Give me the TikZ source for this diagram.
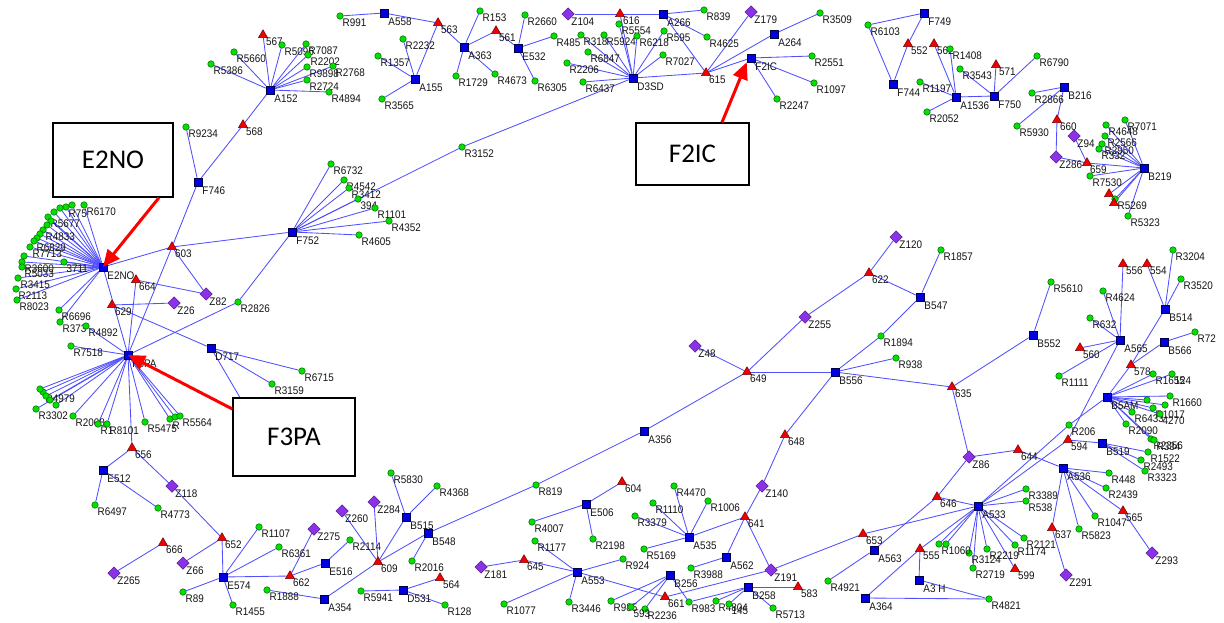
\documentclass[tikz,border=0pt]{standalone}
\usepackage{fontspec}
\setmainfont{Liberation Sans}
\newfontfamily\calib{Carlito}
\newfontfamily\lblfont[FakeStretch=0.9]{Liberation Sans}
\usetikzlibrary{shapes.geometric,arrows.meta,backgrounds}
\definecolor{edg}{RGB}{80,80,255}
\definecolor{gfill}{RGB}{0,225,0}
\definecolor{gdraw}{RGB}{0,100,0}
\definecolor{bfill}{RGB}{0,0,225}
\definecolor{bdraw}{RGB}{0,0,70}
\definecolor{rfill}{RGB}{240,0,0}
\definecolor{rdraw}{RGB}{110,0,0}
\definecolor{pfill}{RGB}{140,50,230}
\definecolor{pdraw}{RGB}{70,20,130}
\definecolor{txt}{RGB}{20,20,20}
\tikzset{
 rn/.style={circle,fill=gfill,draw=gdraw,line width=0.5pt,minimum size=6.5pt,inner sep=0pt},
 sq/.style={rectangle,fill=bfill,draw=bdraw,line width=0.5pt,minimum size=8pt,inner sep=0pt},
 tr/.style={regular polygon,regular polygon sides=3,fill=rfill,draw=rdraw,line width=0.5pt,minimum size=10.5pt,inner sep=0pt},
 dm/.style={diamond,fill=pfill,draw=pdraw,line width=0.5pt,minimum size=12.5pt,inner sep=0pt},
 lbl/.style={font=\lblfont\fontsize{11}{11}\selectfont,text=txt,inner sep=0pt},
 ed/.style={draw=edg,line width=0.85pt},
 callout/.style={draw=black,line width=1.3pt,fill=white,font=\calib\fontsize{27}{27}\selectfont,inner sep=0pt},
 arr/.style={draw=red,line width=3pt,-{Triangle[length=17pt,width=15pt]}}
}
\newcommand\RN[3]{\node[rn,label={[lbl]-45:#3}] (#1) at (#2) {};}
\newcommand\SQ[3]{\node[sq,label={[lbl]-45:#3}] (#1) at (#2) {};}
\newcommand\TR[3]{\node[tr,label={[lbl]-45:#3}] (#1) at (#2) {};}
\newcommand\DM[3]{\node[dm,label={[lbl]-45:#3}] (#1) at (#2) {};}
\begin{document}
\begin{tikzpicture}[x=1pt,y=-1pt]
\begin{scope}[on background layer]
\fill[white] (0,0) rectangle (1224,623);
\end{scope}
\path[use as bounding box] (0,0) rectangle (1224,623);
% ---- top-left A152
\TR{t567}{263,35}{567}
\RN{r5096}{282,45}{R5096}
\RN{r5660}{234,52}{R5660}
\RN{r5386}{211,64}{R5386}
\SQ{a152}{270,90}{A152}
\RN{r7087}{306,44}{R7087}
\RN{r2202}{308,55}{R2202}
\RN{r2768}{333,66}{R2768}
\RN{r9898}{307,67}{R9898}
\RN{r2724}{307,80}{R2724}
\RN{r4894}{329,92}{R4894}
\TR{t568}{243,125}{568}
\RN{r9234}{186,127}{R9234}
\SQ{f746}{198,182}{F746}
% ---- A558 / A155 / A363 / E532
\RN{r991}{340,16}{R991}
\SQ{a558}{384,13}{A558}
\TR{t563}{438,23}{563}
\RN{r2232}{403,39}{R2232}
\RN{r1357}{378,56}{R1357}
\SQ{a155}{415,79}{A155}
\RN{r3565}{382,99}{R3565}
\RN{r153}{480,11}{R153}
\TR{t561}{496,31}{561}
\SQ{a363}{464,47}{A363}
\RN{r1729}{456,76}{R1729}
\RN{r4673}{495,74}{R4673}
\RN{r2660}{525,15}{R2660}
\SQ{e532}{518,48}{E532}
\RN{r485}{554,36}{R485}
\RN{r6305}{535,81}{R6305}
\DM{z104}{568,14}{Z104}
% ---- D3SD
\RN{r3185}{581,35}{R318}
\RN{r5924}{604,35}{R5924}
\RN{r6847}{588,52}{R6847}
\RN{r2206}{567,63}{R2206}
\RN{r6437}{583,82}{R6437}
\RN{r5554}{619,24}{R5554}
\RN{r6218}{637,36}{R6218}
\RN{r5956}{664,31}{R595}
\RN{r7027}{663,55}{R7027}
\TR{t616}{620,14}{616}
\SQ{d3sd}{633,78}{D3SD}
\SQ{a266}{663,14}{A266}
\RN{r839}{704,10}{R839}
\RN{r4625}{707,37}{R4625}
\TR{t615}{706,73}{615}
\DM{z179}{751,12}{Z179}
\SQ{a264}{774,34}{A264}
\RN{r3509}{820,13}{R3509}
\SQ{f2ic}{751,58}{F2IC}
\RN{r2551}{812,56}{R2551}
\RN{r1097}{814,83}{R1097}
\RN{r2247}{777,99}{R2247}
\RN{r3152}{462,147}{R3152}
% ---- top right
\RN{r6103}{868,25}{R6103}
\SQ{f749}{924,13}{F749}
\SQ{f744}{893,84}{F744}
\TR{t552}{908,44}{552}
\TR{t562}{934,44}{562}
\RN{r1408}{950,49}{R1408}
\RN{r1197}{920,82}{R1197}
\SQ{a1536}{956,97}{A1536}
\RN{r2052}{927,112}{R2052}
\RN{r3543}{960,69}{R3543}
\TR{t571}{996,65}{571}
\SQ{f750}{994,96}{F750}
\RN{r6790}{1037,56}{R6790}
\SQ{b216}{1064,87}{B216}
\RN{r2866}{1032,93}{R2866}
\TR{t660}{1057,120}{660}
\RN{r5930}{1017,126}{R5930}
\DM{z286}{1056,157}{Z286}
\DM{z94}{1074,136}{Z94}
\TR{t659}{1087,163}{659}
\SQ{b219}{1144,168}{B219}
\RN{r7071}{1125,120}{R7071}
\RN{r4648}{1106,125}{R4648}
\RN{r2566}{1105,136}{R2566}
\RN{r2950}{1102,144}{R2950}
\RN{r332}{1099,149}{R332}
\RN{r7530}{1090,176}{R7530}
\TR{t5a}{1109,194}{}
\RN{r5269}{1115,199}{R5269}
\TR{t5b}{1114,203}{}
\RN{r5323}{1128,216}{R5323}
% ---- F752
\SQ{f752}{292,232}{F752}
\RN{r6732}{331,164}{R6732}
\RN{r4542}{344,180}{R4542}
\RN{r3412}{349,188}{R3412}
\RN{r394}{358,199}{394}
\RN{r1101}{375,208}{R1101}
\RN{r4352}{389,221}{R4352}
\RN{r4605}{359,235}{R4605}
% ---- E2NO
\SQ{e2no}{103,267}{E2NO}
\TR{t603}{172,247}{603}
\TR{t664}{136,280}{664}
\DM{z82}{206,294}{Z82}
\TR{t629}{112,305}{629}
\DM{z26}{174,303}{Z26}
\RN{r2826}{238,302}{R2826}
\SQ{f3pa}{128,355}{F3PA}
\SQ{d717}{211,348}{D717}
\RN{r3159}{272,384}{R3159}
\RN{r6715}{302,371}{R6715}
\RN{r6832}{242,401}{R6832}
\RN{ea1}{84,205}{R6170}
\RN{ea2}{66,207}{R75}
\RN{ea3}{72,205}{}
\RN{ea4}{60,208}{}
\RN{ea5}{54,212}{}
\RN{ea6}{48,217}{R5677}
\RN{ea7}{51,221}{}
\RN{ea8}{47,225}{}
\RN{ea9}{43,230}{R4833}
\RN{ea10}{40,234}{}
\RN{ea11}{37,238}{}
\RN{ea12}{34,241}{R6829}
\RN{ea13}{30,247}{R7713}
\RN{ea14}{24,256}{}
\RN{ea15}{22,262}{R3600}
\RN{ea16}{22,267}{R5033}
\RN{ea17}{18,278}{R3415}
\RN{ea18}{16,289}{R2113}
\RN{ea19}{17,300}{R8023}
\RN{ea20}{64,262}{3711}
\RN{ea21}{59,310}{R6696}
\RN{ea22}{60,322}{R373}
\RN{r4892}{86,326}{R4892}
\RN{r7518}{71,346}{R7518}
% ---- F3PA fan
\RN{fa1}{43,392}{R4979}
\RN{fa2}{40,389}{}
\RN{fa3}{46,396}{}
\RN{fa4}{50,400}{}
\RN{fa5}{36,409}{R3302}
\RN{fa6}{56,405}{}
\RN{fa7}{73,416}{R2008}
\RN{fa8}{98,424}{R1}
\RN{fa9}{107,424}{R8101}
\RN{fa10}{145,422}{R5475}
\RN{fa11}{170,419}{R}
\RN{fa12}{175,417}{}
\RN{fa13}{180,416}{R5564}
% ---- bottom left
\TR{t656}{132,448}{656}
\SQ{e512}{103,470}{E512}
\DM{z118}{172,486}{Z118}
\RN{r6497}{95,505}{R6497}
\RN{r4773}{158,508}{R4773}
\TR{t652}{222,538}{652}
\RN{r1107}{259,527}{R1107}
\RN{r6361}{279,547}{R6361}
\TR{t666}{163,543}{666}
\DM{z66}{183,563}{Z66}
\DM{z265}{114,573}{Z265}
\SQ{e574}{223,577}{E574}
\RN{r89}{183,592}{R89}
\RN{r1455}{233,605}{R1455}
\RN{r1888}{267,590}{R1888}
\TR{t662}{290,576}{662}
\DM{z275}{314,529}{Z275}
\SQ{e516}{325,563}{E516}
\RN{r2114}{350,540}{R2114}
\TR{t609}{378,562}{609}
\DM{z260}{342,511}{Z260}
\DM{z284}{374,502}{Z284}
\SQ{b515}{406,517}{B515}
\RN{r5830}{391,473}{R5830}
\RN{r4368}{437,486}{R4368}
\SQ{b548}{428,533}{B548}
\RN{r2016}{412,561}{R2016}
\SQ{a354}{324,599}{A354}
\RN{r5941}{361,591}{R5941}
\SQ{d531}{403,590}{D531}
\TR{t564}{440,578}{564}
\RN{r128}{445,605}{R128}
% ---- bottom middle
\RN{r819}{536,485}{R819}
\SQ{a356}{644,431}{A356}
\SQ{e506}{586,504}{E506}
\RN{r4007}{532,522}{R4007}
\RN{r1177}{535,541}{R1177}
\RN{r2198}{593,539}{R2198}
\TR{t604}{622,482}{604}
\DM{z181}{481,567}{Z181}
\TR{t645}{524,560}{645}
\SQ{a553}{577,572}{A553}
\RN{r1077}{504,604}{R1077}
\RN{r3446}{569,602}{R3446}
\RN{r985}{611,601}{R985}
\RN{r924}{623,559}{R924}
\TR{t648}{785,435}{648}
\DM{z140}{762,486}{Z140}
\RN{r4470}{674,486}{R4470}
\RN{r1110}{653,503}{R1110}
\RN{r1006}{708,501}{R1006}
\RN{r3379}{635,516}{R3379}
\TR{t641}{745,517}{641}
\SQ{a535}{689,537}{A535}
\RN{r5169}{644,549}{R5169}
\SQ{a562}{726,557}{A562}
\RN{r3988}{691,568}{R3988}
\DM{z191}{771,570}{Z191}
\SQ{b256}{670,575}{B256}
\SQ{b258}{748,587}{B258}
\TR{t583}{798,587}{583}
\TR{t661}{665,597}{661}
\RN{r983}{689,602}{R983}
\RN{r4804}{716,601}{R4804}
\RN{r2145}{729,604}{145}
\RN{r5713}{773,608}{R5713}
\RN{r2236}{645,609}{R2236}
\RN{r593}{631,607}{593}
% ---- right middle
\DM{z120}{896,237}{Z120}
\TR{t622}{869,273}{622}
\DM{z255}{805,317}{Z255}
\DM{z48}{695,346}{Z48}
\TR{t649}{747,372}{649}
\SQ{b556}{835,372}{B556}
\RN{r1894}{881,336}{R1894}
\RN{r938}{896,358}{R938}
\SQ{b547}{920,297}{B547}
\RN{r1857}{941,250}{R1857}
\RN{r5610}{1051,282}{R5610}
\SQ{b552}{1033,335}{B552}
\TR{t635}{952,387}{635}
\DM{z86}{969,457}{Z86}
\TR{t644}{1018,450}{644}
% ---- right
\TR{t556}{1123,264}{556}
\TR{t554}{1147,264}{554}
\RN{r3204}{1173,250}{R3204}
\RN{r3520}{1181,279}{R3520}
\SQ{b514}{1165,309}{B514}
\RN{r4624}{1103,291}{R4624}
\RN{r632}{1090,318}{R632}
\SQ{a565}{1120,340}{A565}
\TR{t560}{1080,348}{560}
\RN{r1111}{1059,376}{R1111}
\SQ{b566}{1164,342}{B566}
\RN{r7220}{1195,332}{R72}
\TR{t578}{1131,365}{578}
\RN{r1655}{1153,374}{R1655}
\RN{r1124}{1172,374}{124}
\SQ{b5am}{1107,397}{B5AM}
\RN{r1660}{1170,396}{R1660}
\RN{ba1}{1147,400}{}
\RN{ba2}{1165,405}{}
\RN{r1017}{1153,408}{R1017}
\RN{r6433}{1132,412}{R6433}
\RN{r4270}{1160,414}{4270}
\RN{r2090}{1126,424}{R2090}
\RN{r2356}{1151,439}{R2356}
\RN{r3348}{1154,440}{R334}
\SQ{b519}{1102,443}{B519}
\TR{t594}{1068,440}{594}
\RN{r206}{1069,425}{R206}
\SQ{a536}{1063,468}{A536}
\RN{r1522}{1148,452}{R1522}
\RN{r2493}{1141,460}{R2493}
\RN{r3323}{1145,471}{R3323}
\RN{r448}{1109,473}{R448}
\RN{r2439}{1106,488}{R2439}
\TR{t565}{1123,511}{565}
\DM{z293}{1152,553}{Z293}
\RN{r1047}{1095,516}{R1047}
\RN{r5823}{1079,529}{R5823}
\TR{t637}{1052,528}{637}
\DM{z291}{1066,575}{Z291}
\RN{r3389}{1026,489}{R3389}
\RN{r5381}{1026,501}{R538}
\SQ{a533}{978,506}{A533}
\TR{t646}{937,497}{646}
\TR{t653}{863,534}{653}
\SQ{a563}{874,550}{A563}
\RN{r4921}{828,581}{R4921}
\SQ{a364}{865,598}{A364}
\TR{t555}{920,549}{555}
\SQ{a3h}{919,580}{A3 H}
\RN{r4821}{989,599}{R4821}
\TR{t599}{1015,569}{599}
\RN{r1174}{1015,545}{R1174}
\RN{r2121}{1024,538}{R2121}
\RN{r3124}{969,553}{R3124}
\RN{r2219}{987,549}{R2219}
\RN{r1060}{939,544}{R1060}
\RN{r1060b}{946,544}{}
\RN{r2719}{973,568}{R2719}
% ---- edges
\begin{scope}[on background layer]
\foreach \b in {t567,r5096,r5660,r5386,r7087,r2202,r9898,r2768,r2724,r4894,t568} \draw[ed] (a152) -- (\b);
\foreach \b in {r3185,r5924,r6847,r2206,r6437,r5554,r6218,r5956,r7027,t616,t615,r3152} \draw[ed] (d3sd) -- (\b);
\foreach \b in {r6732,r4542,r3412,r394,r1101,r4352,r4605,r3152,t603,r2826} \draw[ed] (f752) -- (\b);
\foreach \b in {ea1,ea2,ea3,ea4,ea5,ea6,ea7,ea8,ea9,ea10,ea11,ea12,ea13,ea14,ea15,ea16,ea17,ea18,ea19,ea20,ea21,ea22,t603,f3pa} \draw[ed] (e2no) -- (\b);
\foreach \b in {r4892,r7518,fa1,fa2,fa3,fa4,fa5,fa6,fa7,fa8,fa9,fa10,fa11,fa12,fa13,t656,r2826,t603,t664} \draw[ed] (f3pa) -- (\b);
\foreach \b in {t659,r7071,r4648,r2566,r2950,r332,r7530,t5a,r5269,t5b,r5323} \draw[ed] (b219) -- (\b);
\foreach \b in {r3389,r5381,r2121,r1174,t599,r2219,r3124,r2719,r1060,r1060b,t646,t555,t653,r206,t594} \draw[ed] (a533) -- (\b);
\foreach \b in {r1660,ba1,ba2,r1017,r6433,r4270,r2090,r2356,r3348,r1655,r1124,t578,r206} \draw[ed] (b5am) -- (\b);
\foreach \a/\b in {t568/f746, f746/r9234, f746/t603,
 r991/a558, a558/t563, t563/a155, a155/r2232, a155/r1357, a155/r3565, t563/a363,
 a363/r153, a363/t561, a363/r1729, a363/r4673, t561/e532, e532/r2660, e532/r485, e532/r6305,
 z104/t616, t616/a266, a266/r839, a266/r4625, a266/t615, t615/z179, t615/a264, a264/r3509,
 t615/f2ic, f2ic/r2551, f2ic/r1097, f2ic/r2247,
 r6103/f749, r6103/f744, f744/t552, t552/f749, a1536/t562, a1536/r1408, a1536/r1197,
 a1536/r2052, a1536/f750, f750/r3543, f750/t571, f750/r6790,
 b216/r2866, b216/t660, b216/r5930, t660/z286, z286/t659, z94/t659,
 t664/z82, t603/z82, t629/z26, t629/d717, d717/r6715, d717/r3159, d717/r6832,
 t656/e512, e512/r6497, e512/r4773, t656/z118, z118/t652, t652/z66, t652/e574, t666/z265,
 e574/r1107, e574/r6361, e574/t662, e574/r89, e574/r1455, t662/z275, t662/e516, r1888/a354,
 e516/r2114, a354/t609, t609/z260, t609/z284, t609/b515, t609/b548, b515/r5830, b515/r4368,
 b548/r2016, b548/r819, d531/r5941, d531/t564, d531/r128,
 t649/a356, a356/r819, e506/r4007, e506/r2198, e506/t604, z181/t645, t645/a553,
 a553/r1177, a553/r1077, a553/r3446, a553/r924, a553/t661,
 b556/t648, t648/z140, z140/t641, t641/z191, t641/a535, t641/a562,
 a535/r4470, a535/r1110, a535/r1006, a535/r3379, a535/r5169, a562/r3988,
 z191/t653, z191/t661, b256/r985, b256/r2236, b256/r593, b256/r983,
 b258/r983, b258/r4804, b258/r2145, b258/t583, b258/r5713,
 t649/z48, t649/z255, z255/t622, t622/z120, t622/b547, b547/r1857, b547/r1894, r1894/b556,
 b556/r938, b556/t649, b556/t635, t635/b552, b552/r5610, t635/z86, z86/t644, z86/t646,
 a565/t556, a565/r4624, a565/r632, a565/t560, a565/r1111, a565/t594,
 b514/t554, b514/r3204, b514/r3520, b514/t578, b566/r7220, b566/t578,
 t594/b519, b519/r1522, b519/r2493, b519/r3323, t644/a536,
 a536/r448, a536/r2439, a536/t565, t565/z293, a536/r1047, a536/r5823, a536/t637, t637/z291,
 a563/t646, a563/r4921, a364/t555, a364/r4821, t555/a3h, a3h/r4821}
 \draw[ed] (\a) -- (\b);
\end{scope}
% ---- callouts
\node[callout,minimum width=120pt,minimum height=74pt] (cE) at (113,160) {E2NO};
\node[callout,minimum width=113pt,minimum height=62pt] (cF) at (692.5,154) {F2IC};
\node[callout,minimum width=122pt,minimum height=78pt] (cP) at (294,437) {F3PA};
\draw[arr] ([xshift=46pt]cE.south) -- (e2no.center);
\draw[arr] ([xshift=29.5pt]cF.north) -- (f2ic.south west);
\draw[arr] ([yshift=28pt]cP.west) -- (f3pa.center);
\end{tikzpicture}
\end{document}
